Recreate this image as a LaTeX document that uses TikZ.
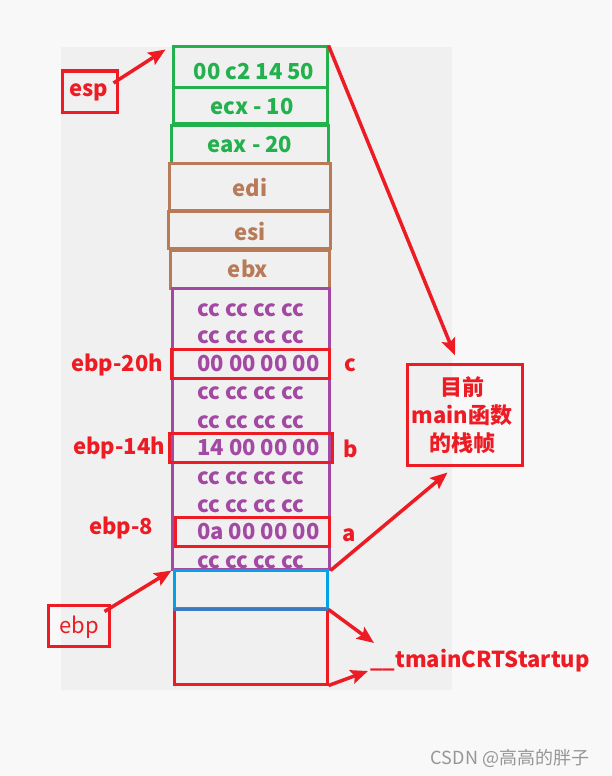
\documentclass[tikz,border=0pt]{standalone}
\usepackage{fontspec}
\setmainfont{Noto Sans CJK SC}
\usetikzlibrary{arrows.meta}
\definecolor{cgreen}{RGB}{34,177,76}
\definecolor{cbrown}{RGB}{185,122,87}
\definecolor{cpurple}{RGB}{163,73,164}
\definecolor{cred}{RGB}{237,28,36}
\definecolor{cblue}{RGB}{0,162,232}
\definecolor{cblued}{RGB}{58,124,196}
\definecolor{pagebg}{RGB}{248,248,248}
\definecolor{panelbg}{RGB}{240,240,240}
\definecolor{wmark}{RGB}{150,150,150}
\begin{document}
\begin{tikzpicture}[x=1pt,y=-1pt,
  cellbox/.style={draw, line width=3pt, inner sep=0pt},
  big/.style={font=\fontsize{22}{28}\selectfont\bfseries, inner sep=0pt},
  val/.style={big, text=cpurple, anchor=west},
  lab/.style={big, text=cred},
  arr/.style={draw=cred, line width=3.5pt, -{Stealth[length=17pt,width=14pt,inset=3pt]}}]
% background
\fill[pagebg] (0,0) rectangle (611,776);
\fill[panelbg] (61,47) rectangle (452,690);
\useasboundingbox (0,0) rectangle (611,776);
% stack cells
\node[cellbox, draw=cgreen, minimum width=154pt, minimum height=40pt] (g1) at (250,67) {};
\node[cellbox, draw=cgreen, minimum width=154pt, minimum height=36pt] (g2) at (250,105) {};
\node[cellbox, draw=cgreen, minimum width=157pt, minimum height=38pt] (g3) at (249.5,144) {};
\node[cellbox, draw=cbrown, minimum width=161pt, minimum height=47pt] (edi) at (249.5,186.5) {};
\node[cellbox, draw=cbrown, minimum width=162pt, minimum height=37pt] (esi) at (249,229.5) {};
\node[cellbox, draw=cbrown, minimum width=159pt, minimum height=38pt] (ebx) at (249.5,269) {};
\node[cellbox, draw=cpurple, minimum width=157pt, minimum height=281pt] (pur) at (250.5,428.5) {};
\node[cellbox, draw=cred, minimum width=153pt, minimum height=76pt] (ret) at (250.5,646) {};
\node[cellbox, draw=cblue, minimum width=153pt, minimum height=38pt] (old) at (250.5,589) {};
\draw[cblued, line width=3pt] (old.south west) -- (old.south east);
\node[cellbox, draw=cred, minimum width=158pt, minimum height=29pt] (hc) at (250,363.5) {};
\node[cellbox, draw=cred, minimum width=163pt, minimum height=29pt] (hb) at (250.5,447.5) {};
\node[cellbox, draw=cred, minimum width=154pt, minimum height=29pt] (ha) at (252,531.5) {};
% cell texts
\node[big, text=cgreen] (t1) at (254,72) {00 c2 14 50};
\node[big, text=cgreen] (t2) at (252,107) {ecx - 10};
\node[big, text=cgreen] (t3) at (250,145) {eax - 20};
\node[big, text=cbrown] (t4) at (250,188) {edi};
\node[big, text=cbrown] (t5) at (250,232) {esi};
\node[big, text=cbrown] (t6) at (248,269) {ebx};
\node[val] (r1) at (197,310) {cc cc cc cc};
\node[val] (r2) at (197,337) {cc cc cc cc};
\node[val] (r3) at (197,364) {00 00 00 00};
\node[val] (r4) at (197,393) {cc cc cc cc};
\node[val] (r5) at (197,422) {cc cc cc cc};
\node[val] (r6) at (197,448) {14 00 00 00};
\node[val] (r7) at (197,478) {cc cc cc cc};
\node[val] (r8) at (197,506) {cc cc cc cc};
\node[val] (r9) at (197,532) {0a 00 00 00};
\node[val] (r10) at (197,562) {cc cc cc cc};
% side labels
\node[lab] (l20) at (117,365) {ebp-20h};
\node[lab] (lc) at (350,365) {c};
\node[lab] (l14) at (119,448) {ebp-14h};
\node[lab] (lb) at (351,449) {b};
\node[lab] (l8) at (121,528) {ebp-8};
\node[lab] (la) at (349,535) {a};
% pointer boxes
\node[cellbox, draw=cred, minimum width=55pt, minimum height=41pt] (esp) at (89.5,91.5) {};
\node[lab] (esptxt) at (89,92) {esp};
\node[cellbox, draw=cred, minimum width=61pt, minimum height=41pt] (ebp) at (78.5,625.5) {};
\node[font=\fontsize{22}{28}\selectfont, text=cred, inner sep=0pt] (ebptxt) at (79,627) {ebp};
% frame note
\node[cellbox, draw=cred, minimum width=115pt, minimum height=101pt] (main) at (464.5,414.5) {};
\node[lab, align=center] (maintxt) at (462,415) {目前\\main函数\\的栈帧};
% startup label
\node[lab, anchor=base west] (crt) at (370,667) {\_\_tmainCRTStartup};
\coordinate (crt1) at (374,643);
\coordinate (crt2) at (368,671);
% watermark
\node[font=\fontsize{18}{22}\selectfont, text=wmark, inner sep=0pt] (wm) at (510,758) {CSDN @高高的胖子};
% arrows
\draw[arr] ([xshift=-5pt,yshift=8.5pt]esp.east) -- ([xshift=-6pt,yshift=-4pt]g1.north west);
\draw[arr] (g1.north east) -- ([xshift=-9.5pt,yshift=7pt]main.north);
\draw[arr] (pur.south east) -- ([xshift=-17pt,yshift=-6pt]main.south);
\draw[arr] ([xshift=-6pt,yshift=-8pt]ebp.north east) -- ([xshift=-1pt,yshift=-2pt]old.north west);
\draw[arr] ([yshift=-3pt]ret.north east) -- (crt1);
\draw[arr] (ret.south east) -- (crt2);
\end{tikzpicture}
\end{document}
